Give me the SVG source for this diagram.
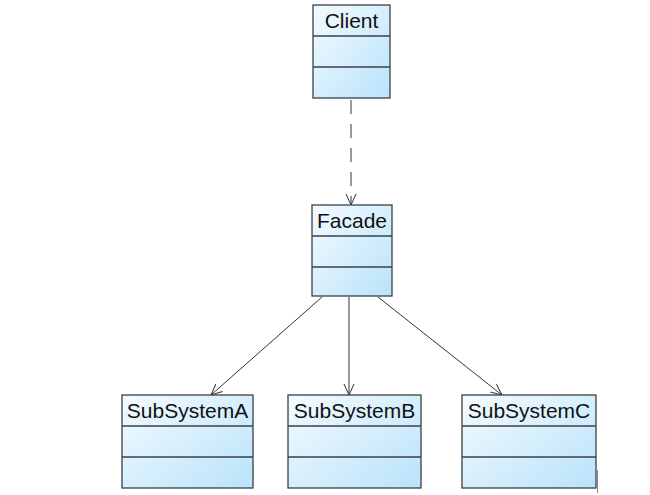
<svg xmlns="http://www.w3.org/2000/svg" width="650" height="495" viewBox="0 0 650 495">
<defs>
<linearGradient id="g" x1="0" y1="0" x2="1" y2="1">
<stop offset="0" stop-color="#f4fbff"/>
<stop offset="1" stop-color="#b9e3fa"/>
</linearGradient>
<marker id="arr" viewBox="0 0 12 12" refX="11" refY="6" markerWidth="12" markerHeight="12" markerUnits="userSpaceOnUse" orient="auto">
<path d="M0,1 L11,6 L0,11" fill="none" stroke="#333" stroke-width="1"/>
</marker>
<style>
.box{fill:url(#g);stroke:#3a4048;stroke-width:1.3}
.div{stroke:#3a4048;stroke-width:1.3}
.t{font-family:"Liberation Sans",Arial,sans-serif;font-size:21px;fill:#111;text-anchor:middle}
.c{stroke:#333;stroke-width:1;fill:none;marker-end:url(#arr)}
</style>
</defs>
<rect width="650" height="495" fill="#fff"/>
<g id="connectors">
<line class="c" x1="351" y1="100" x2="351" y2="205" stroke-dasharray="14,10"/>
<line class="c" x1="322" y1="297" x2="211" y2="395"/>
<line class="c" x1="349" y1="297" x2="349" y2="395"/>
<line class="c" x1="378" y1="297" x2="502" y2="395"/>
</g>
<g id="client">
<rect class="box" x="313" y="5" width="77" height="93"/>
<line class="div" x1="313" y1="36" x2="390" y2="36"/>
<line class="div" x1="313" y1="67" x2="390" y2="67"/>
<text class="t" x="351.5" y="28">Client</text>
</g>
<g id="facade">
<rect class="box" x="312" y="205" width="80" height="91"/>
<line class="div" x1="312" y1="236" x2="392" y2="236"/>
<line class="div" x1="312" y1="267" x2="392" y2="267"/>
<text class="t" x="352" y="228">Facade</text>
</g>
<g id="subsystemA">
<rect class="box" x="122" y="395" width="131" height="93"/>
<line class="div" x1="122" y1="426" x2="253" y2="426"/>
<line class="div" x1="122" y1="457" x2="253" y2="457"/>
<text class="t" x="187.5" y="418">SubSystemA</text>
</g>
<g id="subsystemB">
<rect class="box" x="288" y="395" width="133" height="93"/>
<line class="div" x1="288" y1="426" x2="421" y2="426"/>
<line class="div" x1="288" y1="457" x2="421" y2="457"/>
<text class="t" x="354.5" y="418">SubSystemB</text>
</g>
<g id="subsystemC">
<rect class="box" x="462" y="395" width="134" height="93"/>
<line class="div" x1="462" y1="426" x2="596" y2="426"/>
<line class="div" x1="462" y1="457" x2="596" y2="457"/>
<text class="t" x="529" y="418">SubSystemC</text>
</g>
<line x1="597.5" y1="470" x2="597.5" y2="493" stroke="#888" stroke-width="1"/>
</svg>
